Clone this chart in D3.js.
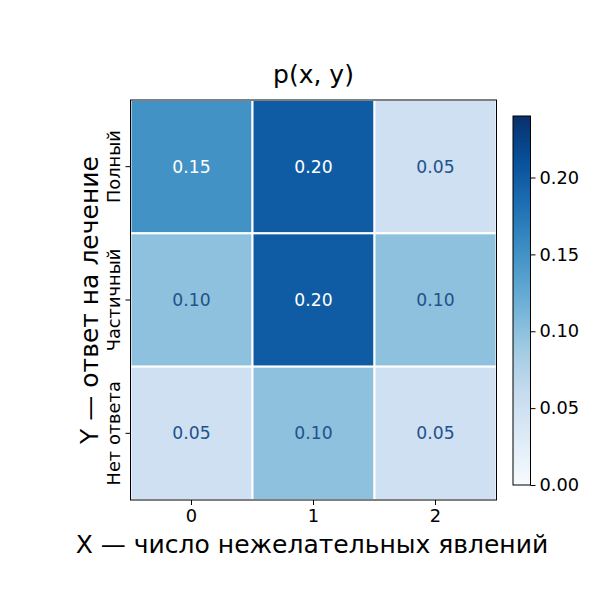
<!DOCTYPE html>
<html><head><meta charset="utf-8">
<script src="https://cdn.jsdelivr.net/npm/d3@7"></script>
<style>body{margin:0;background:#fff}svg{display:block}text{font-family:"DejaVu Sans",sans-serif}</style>
</head><body><svg id="c" width="600" height="600"></svg>
<script>
const xCategories = ["0", "1", "2"];
const yCategories = ["Полный", "Частичный", "Нет ответа"];
const probValues = [
  [0.15, 0.20, 0.05],
  [0.10, 0.20, 0.10],
  [0.05, 0.10, 0.05]
];
const colorTicks = [0.00, 0.05, 0.10, 0.15, 0.20];
const vmax = 0.24;
const title = "p(x, y)";
const xLabel = "X — число нежелательных явлений";
const yLabel = "Y — ответ на лечение";
const bluesStops = ['#f7fbff','#deebf7','#c6dbef','#9ecae1','#6baed6','#4292c6','#2171b5','#08519c','#08306b'];

const svg = d3.select("#c");
const L = 130.5, R = 496.5, T = 100, B = 500;
const tickFs = 17.8, annFs = 17.2, bigFs = 25;
const x = d3.scaleBand().domain(xCategories).range([L, R]);
const y = d3.scaleBand().domain(yCategories).range([T, B]);
const color = d3.scaleLinear()
  .domain(bluesStops.map((_, i) => i / (bluesStops.length - 1) * vmax))
  .range(bluesStops).interpolate(d3.interpolateRgb).clamp(true);

const cells = [];
yCategories.forEach((yc, i) => xCategories.forEach((xc, j) => cells.push({xc, yc, v: probValues[i][j]})));

svg.append("g").selectAll("rect").data(cells).join("rect")
  .attr("x", d => x(d.xc)).attr("y", d => y(d.yc))
  .attr("width", x.bandwidth()).attr("height", y.bandwidth())
  .attr("fill", d => color(d.v)).attr("stroke", "#fff").attr("stroke-width", 2);

svg.append("g").selectAll("text").data(cells).join("text")
  .attr("x", d => x(d.xc) + x.bandwidth() / 2)
  .attr("y", d => y(d.yc) + y.bandwidth() / 2)
  .attr("text-anchor", "middle").attr("dominant-baseline", "central")
  .attr("font-size", annFs)
  .attr("fill", d => d.v / vmax > 0.55 ? "#ffffff" : "#22528a")
  .text(d => d.v.toFixed(2));

svg.append("rect").attr("x", L).attr("y", T).attr("width", R - L).attr("height", B - T)
  .attr("fill", "none").attr("stroke", "#000").attr("stroke-width", 1);

// x axis
const xa = svg.append("g").attr("transform", `translate(0,${B})`)
  .call(d3.axisBottom(x).tickSize(5).tickPadding(4));
xa.select(".domain").remove();
xa.selectAll("text").attr("font-size", tickFs).attr("fill", "#000").style("font-family", "DejaVu Sans");
xa.selectAll("line").attr("stroke", "#000");

// y axis
const ya = svg.append("g").attr("transform", `translate(${L},0)`)
  .call(d3.axisLeft(y).tickSize(5).tickPadding(0));
ya.select(".domain").remove();
ya.selectAll("line").attr("stroke", "#000");
ya.selectAll("text").attr("font-size", tickFs).attr("fill", "#000").style("font-family", "DejaVu Sans")
  .attr("x", null).attr("dy", null)
  .attr("transform", "translate(-11,0) rotate(-90)")
  .attr("text-anchor", "middle").attr("dominant-baseline", "auto");

// title and labels
svg.append("text").attr("x", (L + R) / 2).attr("y", 83).attr("text-anchor", "middle")
  .attr("font-size", bigFs).text(title);
svg.append("text").attr("x", 312).attr("y", 553).attr("text-anchor", "middle")
  .attr("font-size", bigFs).text(xLabel);
svg.append("text").attr("transform", `translate(98,${(T + B) / 2}) rotate(-90)`)
  .attr("text-anchor", "middle").attr("font-size", bigFs).text(yLabel);

// colorbar
const cbL = 513, cbW = 17.5, cbT = 116, cbB = 485;
const cy = d3.scaleLinear().domain([0, vmax]).range([cbB, cbT]);
const defs = svg.append("defs");
const grad = defs.append("linearGradient").attr("id", "cbg").attr("x1", 0).attr("y1", 1).attr("x2", 0).attr("y2", 0);
grad.selectAll("stop").data(bluesStops).join("stop")
  .attr("offset", (_, i) => i / (bluesStops.length - 1)).attr("stop-color", d => d);
svg.append("rect").attr("x", cbL).attr("y", cbT).attr("width", cbW).attr("height", cbB - cbT)
  .attr("fill", "url(#cbg)").attr("stroke", "#000").attr("stroke-width", 1);
const ca = svg.append("g").attr("transform", `translate(${cbL + cbW},0)`)
  .call(d3.axisRight(cy).tickValues(colorTicks).tickFormat(d3.format(".2f")).tickSize(5).tickPadding(4));
ca.select(".domain").remove();
ca.selectAll("line").attr("stroke", "#000");
ca.selectAll("text").attr("font-size", tickFs).attr("fill", "#000").style("font-family", "DejaVu Sans");
</script></body></html>
